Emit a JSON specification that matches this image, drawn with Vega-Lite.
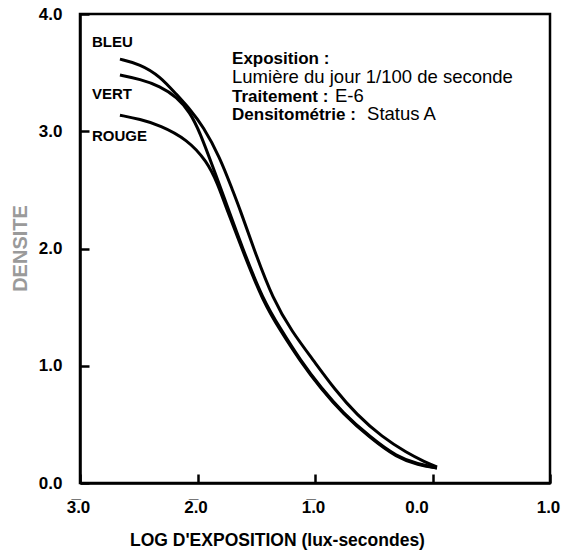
{
  "$schema": "https://vega.github.io/schema/vega-lite/v6.json",
  "autosize": "none",
  "width": 470,
  "height": 469,
  "padding": {"left": 80, "top": 14, "right": 12, "bottom": 72},
  "background": "white",
  "config": {
    "view": {"stroke": "black", "strokeWidth": 2.5},
    "font": "Liberation Sans",
    "axis": {
      "grid": false,
      "domainColor": "black",
      "domainWidth": 2.5,
      "tickColor": "black",
      "tickWidth": 2.5,
      "tickSize": -9,
      "labelFont": "Liberation Sans",
      "labelFontSize": 17,
      "labelFontWeight": "bold",
      "labelColor": "black",
      "titleFont": "Liberation Sans",
      "titleFontWeight": "bold"
    }
  },
  "datasets": {
    "curves": [
      {"serie": "BLEU", "x": -2.660, "d": 3.615},
      {"serie": "BLEU", "x": -2.489, "d": 3.573},
      {"serie": "BLEU", "x": -2.319, "d": 3.470},
      {"serie": "BLEU", "x": -2.174, "d": 3.308},
      {"serie": "BLEU", "x": -2.064, "d": 3.188},
      {"serie": "BLEU", "x": -1.953, "d": 3.043},
      {"serie": "BLEU", "x": -1.809, "d": 2.778},
      {"serie": "BLEU", "x": -1.698, "d": 2.487},
      {"serie": "BLEU", "x": -1.638, "d": 2.333},
      {"serie": "BLEU", "x": -1.519, "d": 1.991},
      {"serie": "BLEU", "x": -1.357, "d": 1.564},
      {"serie": "BLEU", "x": -1.196, "d": 1.291},
      {"serie": "BLEU", "x": -1.017, "d": 1.051},
      {"serie": "BLEU", "x": -0.830, "d": 0.795},
      {"serie": "BLEU", "x": -0.643, "d": 0.581},
      {"serie": "BLEU", "x": -0.430, "d": 0.393},
      {"serie": "BLEU", "x": -0.217, "d": 0.256},
      {"serie": "BLEU", "x": -0.064, "d": 0.179},
      {"serie": "BLEU", "x": 0.038, "d": 0.137},
      {"serie": "VERT", "x": -2.660, "d": 3.479},
      {"serie": "VERT", "x": -2.489, "d": 3.444},
      {"serie": "VERT", "x": -2.319, "d": 3.385},
      {"serie": "VERT", "x": -2.174, "d": 3.291},
      {"serie": "VERT", "x": -2.064, "d": 3.162},
      {"serie": "VERT", "x": -1.979, "d": 2.991},
      {"serie": "VERT", "x": -1.868, "d": 2.692},
      {"serie": "VERT", "x": -1.783, "d": 2.462},
      {"serie": "VERT", "x": -1.613, "d": 1.991},
      {"serie": "VERT", "x": -1.443, "d": 1.564},
      {"serie": "VERT", "x": -1.289, "d": 1.308},
      {"serie": "VERT", "x": -1.128, "d": 1.051},
      {"serie": "VERT", "x": -0.949, "d": 0.812},
      {"serie": "VERT", "x": -0.762, "d": 0.598},
      {"serie": "VERT", "x": -0.532, "d": 0.393},
      {"serie": "VERT", "x": -0.302, "d": 0.222},
      {"serie": "VERT", "x": -0.123, "d": 0.162},
      {"serie": "VERT", "x": 0.038, "d": 0.128},
      {"serie": "ROUGE", "x": -2.660, "d": 3.137},
      {"serie": "ROUGE", "x": -2.489, "d": 3.103},
      {"serie": "ROUGE", "x": -2.319, "d": 3.051},
      {"serie": "ROUGE", "x": -2.089, "d": 2.932},
      {"serie": "ROUGE", "x": -1.919, "d": 2.744},
      {"serie": "ROUGE", "x": -1.826, "d": 2.547},
      {"serie": "ROUGE", "x": -1.766, "d": 2.376},
      {"serie": "ROUGE", "x": -1.613, "d": 1.974},
      {"serie": "ROUGE", "x": -1.443, "d": 1.547},
      {"serie": "ROUGE", "x": -1.289, "d": 1.291},
      {"serie": "ROUGE", "x": -1.128, "d": 1.043},
      {"serie": "ROUGE", "x": -0.949, "d": 0.803},
      {"serie": "ROUGE", "x": -0.762, "d": 0.590},
      {"serie": "ROUGE", "x": -0.532, "d": 0.385},
      {"serie": "ROUGE", "x": -0.302, "d": 0.214},
      {"serie": "ROUGE", "x": -0.123, "d": 0.154},
      {"serie": "ROUGE", "x": 0.038, "d": 0.128}
    ],
    "labels": [
      {"label": "BLEU", "x": -2.898, "d": 3.718},
      {"label": "VERT", "x": -2.898, "d": 3.274},
      {"label": "ROUGE", "x": -2.898, "d": 2.915}
    ],
    "bold": [
      {"text": "Exposition :", "x": -1.706, "d": 3.573},
      {"text": "Traitement :", "x": -1.706, "d": 3.248},
      {"text": "Densitométrie :", "x": -1.706, "d": 3.094}
    ],
    "regular": [
      {"text": "Lumière du jour 1/100 de seconde", "x": -1.706, "d": 3.410},
      {"text": "E-6", "x": -0.830, "d": 3.248},
      {"text": "Status A", "x": -0.557, "d": 3.094}
    ]
  },
  "encoding": {
    "x": {
      "field": "x",
      "type": "quantitative",
      "scale": {"domain": [-3, 1], "nice": false, "zero": false},
      "axis": {
        "values": [-3, -2, -1, 0, 1],
        "labelExpr": "datum.value == -3 ? '3\u0305.0' : datum.value == -2 ? '2\u0305.0' : datum.value == -1 ? '1\u0305.0' : format(datum.value, '.1f')",
        "labelPadding": 25,
        "labelFlush": false,
        "labelOffset": {"condition": {"test": "datum.value == 0", "value": -16}, "value": -2},
        "title": "LOG D'EXPOSITION (lux-secondes)",
        "titleFontSize": 17.5,
        "titleColor": "black",
        "titleX": 197,
        "titleY": 57,
        "titleAnchor": null,
        "titleAlign": "center",
        "titleBaseline": "middle"
      }
    },
    "y": {
      "field": "d",
      "type": "quantitative",
      "scale": {"domain": [0, 4], "nice": false},
      "axis": {
        "values": [0, 1, 2, 3, 4],
        "format": ".1f",
        "labelPadding": 27,
        "labelFlush": false,
        "title": "DENSITE",
        "titleFontSize": 20,
        "titleColor": "#9a9a9a",
        "titleAngle": -90,
        "titleX": -60,
        "titleY": 234,
        "titleAlign": "center",
        "titleBaseline": "middle"
      }
    }
  },
  "layer": [
    {
      "data": {"name": "curves"},
      "mark": {"type": "line", "color": "black", "strokeWidth": 3, "interpolate": "basis"},
      "encoding": {"detail": {"field": "serie"}}
    },
    {
      "data": {"name": "labels"},
      "mark": {"type": "text", "align": "left", "baseline": "alphabetic", "fontSize": 15, "fontWeight": "bold", "color": "black", "font": "Liberation Sans"},
      "encoding": {"text": {"field": "label"}}
    },
    {
      "data": {"name": "bold"},
      "mark": {"type": "text", "align": "left", "baseline": "alphabetic", "fontSize": 17, "fontWeight": "bold", "color": "black", "font": "Liberation Sans"},
      "encoding": {"text": {"field": "text"}}
    },
    {
      "data": {"name": "regular"},
      "mark": {"type": "text", "align": "left", "baseline": "alphabetic", "fontSize": 18.5, "color": "black", "font": "Liberation Sans"},
      "encoding": {"text": {"field": "text"}}
    }
  ]
}
